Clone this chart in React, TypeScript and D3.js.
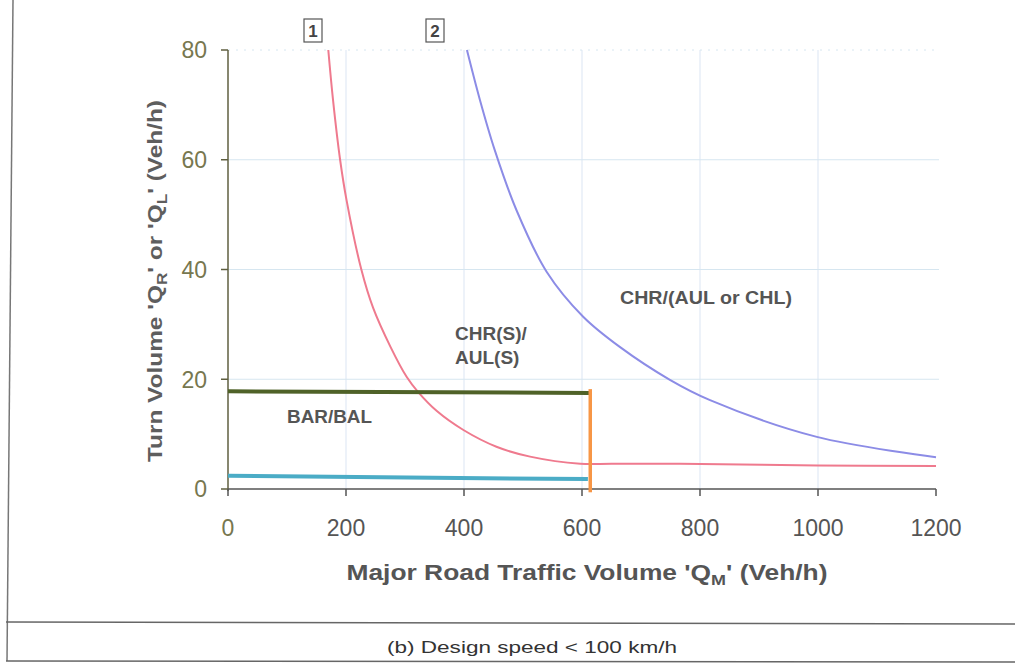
import React from "react";
import * as d3 from "d3";

const curve1QM = [170, 178, 190, 201, 226, 246, 275, 303, 322, 354, 399, 455, 512, 597, 650, 766, 1000, 1200];
const curve1Q = [80, 70.9, 60, 52.6, 40, 33, 26, 20.4, 17.7, 14.2, 10.75, 7.7, 5.9, 4.6, 4.6, 4.6, 4.3, 4.2];
const curve2QM = [405, 427, 452, 489, 540, 602, 664, 749, 817, 998, 1200];
const curve2Q = [80, 70.9, 61.8, 50.8, 39.6, 31.4, 25.9, 19.9, 16.2, 9.5, 5.8];

const xTicks = [0, 200, 400, 600, 800, 1000, 1200];
const yTicks = [0, 20, 40, 60, 80];
const xGrid = [200, 400, 600, 800, 1000];
const yGrid = [20, 40, 60, 80];

const greenLineQM = [0, 614];
const greenLineQ = [17.8, 17.5];
const cyanLineQM = [0, 610];
const cyanLineQ = [2.4, 1.8];
const orangeLineQM = [614, 614];
const orangeLineQ = [18.2, -0.6];

export default function App() {
  const W = 1015, H = 666;
  const x = d3.scaleLinear().domain([0, 1200]).range([228, 936]);
  const y = d3.scaleLinear().domain([0, 80]).range([489, 50]);
  const line = d3.line<[number, number]>().x(d => x(d[0])).y(d => y(d[1])).curve(d3.curveCatmullRom.alpha(0.5));
  const straight = d3.line<[number, number]>().x(d => x(d[0])).y(d => y(d[1]));
  const zip = (a: number[], b: number[]) => a.map((v, i) => [v, b[i]] as [number, number]);
  const font = "Liberation Sans, Arial, sans-serif";
  const narrow = "'Liberation Sans Narrow', 'Liberation Sans', Arial, sans-serif";

  return (
    <svg width={W} height={H} style={{ position: "absolute", left: 0, top: 0, background: "#fff" }} fontFamily={font}>
      {/* frame */}
      <line x1={13} y1={0} x2={7} y2={661} stroke="#777" strokeWidth={1.5} />
      <line x1={6} y1={622} x2={1015} y2={624} stroke="#666" strokeWidth={1.5} />
      <line x1={6} y1={661} x2={1015} y2={662} stroke="#666" strokeWidth={1.5} />
      <text x={532} y={653} textAnchor="middle" fontSize={17} fill="#333" fontFamily={narrow} textLength={290} lengthAdjust="spacingAndGlyphs">(b) Design speed &lt; 100 km/h</text>

      {/* grid */}
      {xGrid.map(v => (
        <line key={"gx" + v} x1={x(v)} x2={x(v)} y1={y(80)} y2={y(0)} stroke="#dbe5f3" strokeWidth={1} />
      ))}
      {yGrid.map(v => (
        <line key={"gy" + v} x1={x(0)} x2={x(1200) + 3} y1={y(v)} y2={y(v)} stroke="#d6e6f0" strokeWidth={1} strokeDasharray={v === 80 ? "2 6" : undefined} />
      ))}

      {/* axes */}
      <line x1={x(0)} x2={x(0)} y1={y(80)} y2={y(0) + 2} stroke="#5f5f40" strokeWidth={1.5} />
      {yTicks.map(v => (
        <g key={"yt" + v}>
          <line x1={x(0) - 7} x2={x(0)} y1={y(v)} y2={y(v)} stroke="#5f5f40" strokeWidth={1.5} />
          <text x={207} y={y(v)} dy="0.36em" textAnchor="end" fontSize={23} fill="#77774f">{v}</text>
        </g>
      ))}
      <line x1={x(0)} x2={x(1200)} y1={y(0)} y2={y(0)} stroke="#555" strokeWidth={1.5} />
      {xTicks.map(v => (
        <g key={"xt" + v}>
          <line x1={x(v)} x2={x(v)} y1={y(0)} y2={y(0) + 7} stroke="#555" strokeWidth={1.5} />
          <text x={x(v)} y={536} textAnchor="middle" fontSize={23} fill={v === 0 ? "#77774f" : "#555"}>{v}</text>
        </g>
      ))}

      {/* axis titles */}
      <text x={587} y={580} textAnchor="middle" fontSize={22} fontWeight="bold" fill="#555" fontFamily={narrow} textLength={481} lengthAdjust="spacingAndGlyphs">
        Major Road Traffic Volume 'Q<tspan fontSize={15} dy={5}>M</tspan><tspan dy={-5}>' (Veh/h)</tspan>
      </text>
      <text transform="translate(162,281) rotate(-90)" textAnchor="middle" fontSize={20} fontWeight="bold" fill="#5e5e5e" textLength={362} lengthAdjust="spacingAndGlyphs">
        Turn Volume 'Q<tspan fontSize={14} dy={5}>R</tspan><tspan dy={-5}>' or 'Q</tspan><tspan fontSize={14} dy={5}>L</tspan><tspan dy={-5}>' (Veh/h)</tspan>
      </text>

      {/* curves */}
      <path d={line(zip(curve1QM, curve1Q)) || ""} fill="none" stroke="#ef7a8e" strokeWidth={2} />
      <path d={line(zip(curve2QM, curve2Q)) || ""} fill="none" stroke="#8c8ce6" strokeWidth={2} />

      {/* boundary lines */}
      <path d={straight(zip(greenLineQM, greenLineQ)) || ""} fill="none" stroke="#4f6228" strokeWidth={4} />
      <path d={straight(zip(cyanLineQM, cyanLineQ)) || ""} fill="none" stroke="#4bacc6" strokeWidth={4} />
      <path d={straight(zip(orangeLineQM, orangeLineQ)) || ""} fill="none" stroke="#f79646" strokeWidth={3.5} />

      {/* curve markers */}
      <rect x={304} y={19} width={18} height={23} fill="#fff" stroke="#555" strokeWidth={1.2} />
      <text x={313} y={37} textAnchor="middle" fontSize={17} fontWeight="bold" fill="#444">1</text>
      <rect x={426} y={19} width={18} height={23} fill="#fff" stroke="#555" strokeWidth={1.2} />
      <text x={435} y={37} textAnchor="middle" fontSize={17} fontWeight="bold" fill="#444">2</text>

      {/* region labels */}
      <text x={620} y={304} fontSize={19} fontWeight="bold" fill="#555" textLength={172} lengthAdjust="spacingAndGlyphs">CHR/(AUL or CHL)</text>
      <text x={455} y={340} fontSize={19} fontWeight="bold" fill="#555">CHR(S)/</text>
      <text x={455} y={364} fontSize={19} fontWeight="bold" fill="#555">AUL(S)</text>
      <text x={287} y={423} fontSize={19} fontWeight="bold" fill="#555" textLength={85} lengthAdjust="spacingAndGlyphs">BAR/BAL</text>
    </svg>
  );
}
